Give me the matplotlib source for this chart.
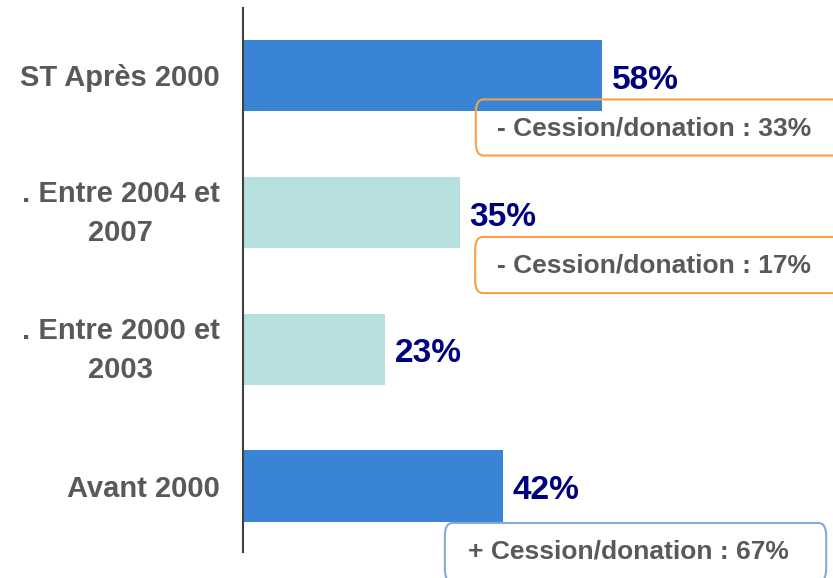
import matplotlib.pyplot as plt
import matplotlib.transforms as mtransforms
from matplotlib.patches import FancyBboxPatch

# categories from bottom to top
categories = ['Avant 2000', '. Entre 2000 et\n2003', '. Entre 2004 et\n2007', 'ST Après 2000']
values = [42, 23, 35, 58]
bar_colors = ['#3A84D6', '#B7DFE0', '#B7DFE0', '#3A84D6']
notes = ['+ Cession/donation : 67%', None, '- Cession/donation : 17%', '- Cession/donation : 33%']
note_colors = ['#82AADC', None, '#F5A04A', '#F5A04A']

plt.rcParams['font.family'] = ['Liberation Sans', 'DejaVu Sans']

fig = plt.figure(figsize=(8.33, 5.78), dpi=100)
ax = fig.add_axes([243 / 833, 1 - 552 / 578, 1 - 243 / 833, (552 - 8) / 578])

y = range(len(categories))
ax.barh(y, values, height=0.52, color=bar_colors, zorder=2)

ax.set_xlim(0, 95.3)
ax.set_ylim(-0.482, 3.493)

ax.set_yticks(list(y))
ax.set_yticklabels(categories, fontsize=21, fontweight='bold', color='#595959',
                   multialignment='center', linespacing=1.5)
ax.tick_params(axis='y', length=0, pad=17)
ax.set_xticks([])

# two-line labels sit a bit low, nudge them up
shift = mtransforms.ScaledTranslation(0, 5 / 72, fig.dpi_scale_trans)
for lbl in ax.get_yticklabels():
    if '\n' in lbl.get_text():
        lbl.set_transform(lbl.get_transform() + shift)

for s in ['top', 'right', 'bottom']:
    ax.spines[s].set_visible(False)
ax.spines['left'].set_color('#404040')
ax.spines['left'].set_linewidth(1.5)

# value labels
for i, v in enumerate(values):
    ax.text(v + 1.6, i - 0.035, f'{v}%', fontsize=24, fontweight='bold',
            color='#00007F', va='center', ha='left')

# annotation boxes (x0, y0, width, height in data units; text x, text y)
box_pos = {
    3: (37.6, 2.415, 62, 0.41, 41.0, 2.615),
    2: (37.5, 1.41, 62, 0.41, 41.0, 1.61),
    0: (32.6, -0.7, 61.6, 0.43, 36.3, -0.475),
}
for i, (x0, y0, w, h, tx, ty) in box_pos.items():
    box = FancyBboxPatch((x0, y0), w, h, boxstyle='round,pad=0,rounding_size=1.2',
                         mutation_aspect=0.08, fill=False, edgecolor=note_colors[i],
                         linewidth=1.5, clip_on=False, zorder=3)
    ax.add_patch(box)
    ax.text(tx, ty, notes[i], fontsize=19, fontweight='bold', color='#595959',
            va='center', ha='left', zorder=4)

fig.savefig('out.png', dpi=100)
